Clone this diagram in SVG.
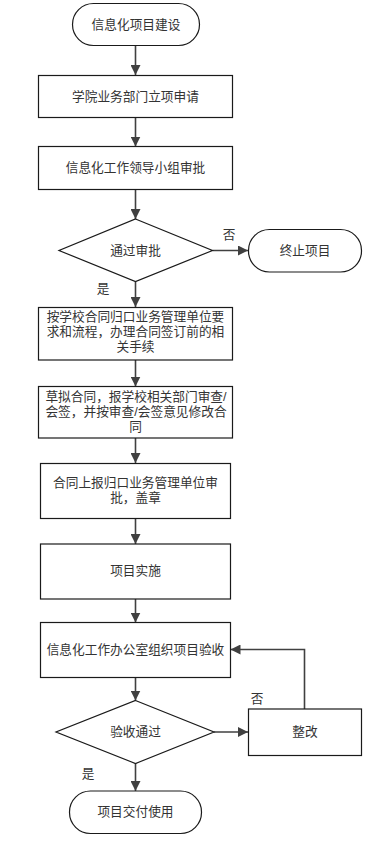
<svg xmlns="http://www.w3.org/2000/svg" width="369" height="843" viewBox="0 0 369 843">
<style>
.n{fill:#fff;stroke:#1a1a1a;stroke-width:1.2}
.t{font-family:"Liberation Sans","Noto Sans CJK SC",sans-serif;font-size:12.7px;fill:#333;text-anchor:middle;dominant-baseline:central}
.c{fill:none;stroke:#404040;stroke-width:1.6}
</style>
<defs>
<marker id="ah" viewBox="0 0 10 10" refX="10" refY="5" markerWidth="10" markerHeight="10" markerUnits="userSpaceOnUse" orient="auto">
<path d="M0,0 L10,5 L0,10 z" fill="#404040"/>
</marker>
</defs>
<rect width="369" height="843" fill="#fff"/>
<g id="connectors">
<line class="c" x1="135.5" y1="45.5" x2="135.5" y2="75" marker-end="url(#ah)"/>
<line class="c" x1="135.5" y1="117.5" x2="135.5" y2="146.5" marker-end="url(#ah)"/>
<line class="c" x1="135.5" y1="189.5" x2="135.5" y2="219" marker-end="url(#ah)"/>
<line class="c" x1="212.5" y1="250.5" x2="248" y2="250.5" marker-end="url(#ah)"/>
<line class="c" x1="135.5" y1="281.5" x2="135.5" y2="307" marker-end="url(#ah)"/>
<line class="c" x1="135.5" y1="360" x2="135.5" y2="386.5" marker-end="url(#ah)"/>
<line class="c" x1="135.5" y1="438" x2="135.5" y2="463" marker-end="url(#ah)"/>
<line class="c" x1="135.5" y1="519" x2="135.5" y2="544" marker-end="url(#ah)"/>
<line class="c" x1="135.5" y1="599" x2="135.5" y2="622.5" marker-end="url(#ah)"/>
<line class="c" x1="135.5" y1="677.5" x2="135.5" y2="700.5" marker-end="url(#ah)"/>
<line class="c" x1="214" y1="732" x2="248" y2="732" marker-end="url(#ah)"/>
<polyline class="c" points="304.5,709 304.5,649.5 230.5,649.5" marker-end="url(#ah)"/>
<line class="c" x1="135.5" y1="763.5" x2="135.5" y2="791" marker-end="url(#ah)"/>
<text class="t" x="229" y="235">否</text>
<text class="t" x="103" y="289">是</text>
<text class="t" x="257" y="699">否</text>
<text class="t" x="88" y="774">是</text>
</g>
<g id="start">
<rect class="n" x="72.5" y="3.5" width="127" height="42" rx="21" ry="21"/>
<text class="t" x="136" y="24.5">信息化项目建设</text>
</g>
<g id="apply">
<rect class="n" x="38.5" y="75.5" width="194" height="42"/>
<text class="t" x="135.5" y="96.5">学院业务部门立项申请</text>
</g>
<g id="leader">
<rect class="n" x="38.5" y="146.5" width="194" height="43"/>
<text class="t" x="135.5" y="168">信息化工作领导小组审批</text>
</g>
<g id="approve">
<polygon class="n" points="135.5,219 212.5,250.5 135.5,281.5 59,250.5"/>
<text class="t" x="135.5" y="250.5">通过审批</text>
</g>
<g id="terminate">
<rect class="n" x="248.5" y="229.5" width="113" height="42.5" rx="21" ry="21"/>
<text class="t" x="305" y="250.5">终止项目</text>
</g>
<g id="procedure">
<rect class="n" x="38.5" y="307.5" width="194" height="52.5"/>
<text class="t" x="135.5" y="316.7">按学校合同归口业务管理单位要</text>
<text class="t" x="135.5" y="331.7">求和流程，办理合同签订前的相</text>
<text class="t" x="135.5" y="346.7">关手续</text>
</g>
<g id="draft">
<rect class="n" x="38.5" y="386.5" width="194" height="51.5"/>
<text class="t" x="136" y="396.7">草拟合同，报学校相关部门审查/</text>
<text class="t" x="136" y="411.7">会签，并按审查/会签意见修改合</text>
<text class="t" x="135.5" y="426.7">同</text>
</g>
<g id="report">
<rect class="n" x="40.5" y="463.5" width="190" height="55"/>
<text class="t" x="135.5" y="482.7">合同上报归口业务管理单位审</text>
<text class="t" x="135.5" y="498.3">批，盖章</text>
</g>
<g id="implement">
<rect class="n" x="40.5" y="544" width="190" height="55"/>
<text class="t" x="135.5" y="570.7">项目实施</text>
</g>
<g id="acceptance">
<rect class="n" x="40.5" y="622.5" width="190" height="55"/>
<text class="t" x="135.5" y="650">信息化工作办公室组织项目验收</text>
</g>
<g id="passed">
<polygon class="n" points="135.5,700.5 214,732 135.5,763.5 56,732"/>
<text class="t" x="135.5" y="731.7">验收通过</text>
</g>
<g id="rectify">
<rect class="n" x="248.5" y="709" width="113" height="46.5"/>
<text class="t" x="305" y="732">整改</text>
</g>
<g id="deliver">
<rect class="n" x="69.5" y="791" width="132" height="42.5" rx="21" ry="21"/>
<text class="t" x="135.5" y="811.7">项目交付使用</text>
</g>
</svg>
